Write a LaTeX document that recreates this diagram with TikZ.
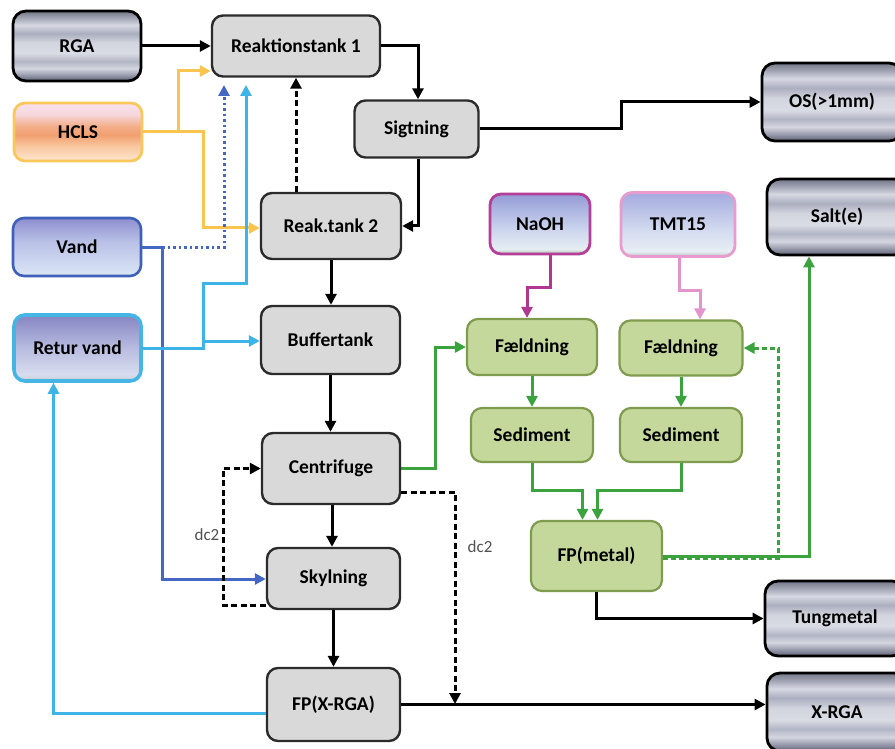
\documentclass[tikz,border=0pt]{standalone}
\usepackage{fontspec}
\setmainfont{Carlito}
\usetikzlibrary{arrows.meta}

% box colours
\definecolor{boxgray}{HTML}{D9D9D9}
\definecolor{boxedge}{HTML}{2B2B2B}
\definecolor{greenfill}{HTML}{C5D89B}
\definecolor{greenedge}{HTML}{7F9B4E}
\definecolor{hclsedge}{HTML}{F8C85A}
\definecolor{vandedge}{HTML}{3F5FB8}
\definecolor{returedge}{HTML}{45B5E6}
\definecolor{naohedge}{HTML}{B53E98}
\definecolor{tmtedge}{HTML}{E79BCF}
% flow colours
\definecolor{flowgreen}{HTML}{3AA33E}
\definecolor{vandflow}{HTML}{4466C4}
\definecolor{returflow}{HTML}{3DB4E8}
\definecolor{hclsflow}{HTML}{F9C54F}
\definecolor{naohflow}{HTML}{B1368F}
\definecolor{tmtflow}{HTML}{E394CC}
\definecolor{lblgray}{HTML}{505050}

% Shadings: a node is fitted to the band 25bp..75bp of the 100bp shading.
% metallic bands
\definecolor{metA}{HTML}{5E6173}
\definecolor{metB}{HTML}{9497A8}
\definecolor{metC}{HTML}{D4D6E0}
\definecolor{metD}{HTML}{B2B5C4}
\definecolor{metE}{HTML}{DADCE5}
\definecolor{metF}{HTML}{D2D4DE}
\definecolor{metG}{HTML}{ABAEBF}
\definecolor{metH}{HTML}{D6D8E2}
\definecolor{metI}{HTML}{A2A5B4}
\definecolor{metJ}{HTML}{747787}
\pgfdeclareverticalshading{metal}{100bp}{color(0bp)=(metA); color(25bp)=(metA); color(29bp)=(metB); color(34bp)=(metC); color(39bp)=(metD); color(45bp)=(metE); color(52.5bp)=(metF); color(59bp)=(metG); color(65bp)=(metH); color(70bp)=(metI); color(75bp)=(metJ); color(100bp)=(metJ)}

% HCLS
\definecolor{hcA}{HTML}{FDE6CC}
\definecolor{hcB}{HTML}{F9C8A0}
\definecolor{hcC}{HTML}{F1A070}
\definecolor{hcD}{HTML}{F3AE88}
\definecolor{hcE}{HTML}{F6D6DC}
\definecolor{hcF}{HTML}{F8E2EE}
\pgfdeclareverticalshading{hclsshade}{100bp}{color(0bp)=(hcA); color(25bp)=(hcA); color(37.5bp)=(hcB); color(47.5bp)=(hcC); color(55bp)=(hcD); color(65bp)=(hcE); color(75bp)=(hcF); color(100bp)=(hcF)}

% Vand
\definecolor{vaA}{HTML}{DBE6F6}
\definecolor{vaB}{HTML}{B8C0E6}
\definecolor{vaC}{HTML}{8E8ECF}
\pgfdeclareverticalshading{vandshade}{100bp}{color(0bp)=(vaA); color(25bp)=(vaA); color(55bp)=(vaB); color(75bp)=(vaC); color(100bp)=(vaC)}

% Retur vand
\definecolor{reA}{HTML}{C8CCD4}
\definecolor{reB}{HTML}{D8DCEF}
\definecolor{reC}{HTML}{B8BCE0}
\definecolor{reD}{HTML}{8585C2}
\pgfdeclareverticalshading{returshade}{100bp}{color(0bp)=(reA); color(25bp)=(reA); color(30bp)=(reB); color(50bp)=(reC); color(75bp)=(reD); color(100bp)=(reD)}

% NaOH / TMT15
\definecolor{naA}{HTML}{AAB8B0}
\definecolor{naB}{HTML}{E6EEF2}
\definecolor{naC}{HTML}{CDD6EE}
\definecolor{naD}{HTML}{949BD6}
\pgfdeclareverticalshading{naohshade}{100bp}{color(0bp)=(naA); color(25bp)=(naA); color(29bp)=(naB); color(45bp)=(naC); color(75bp)=(naD); color(100bp)=(naD)}
\definecolor{tmA}{HTML}{B8C4C0}
\definecolor{tmB}{HTML}{E8EEF4}
\definecolor{tmC}{HTML}{D4DCF0}
\definecolor{tmD}{HTML}{A4AADE}
\pgfdeclareverticalshading{tmtshade}{100bp}{color(0bp)=(tmA); color(25bp)=(tmA); color(29bp)=(tmB); color(45bp)=(tmC); color(75bp)=(tmD); color(100bp)=(tmD)}

\begin{document}
\begin{tikzpicture}[x=1pt,y=-1pt,
  every node/.style={font=\fontsize{19.5}{23}\selectfont\bfseries, inner sep=0pt, align=center},
  sz/.style 2 args={minimum width=#1pt, minimum height=#2pt},
  procbox/.style={draw=boxedge, fill=boxgray, line width=2.4pt, rounded corners=11pt},
  greenbox/.style={draw=greenedge, fill=greenfill, line width=2.2pt, rounded corners=11pt},
  metalbox/.style={draw=black, shading=metal, line width=2.8pt, rounded corners=13pt},
  hclsbox/.style={draw=hclsedge, shading=hclsshade, line width=2.8pt, rounded corners=11pt},
  vandbox/.style={draw=vandedge, shading=vandshade, line width=2.6pt, rounded corners=11pt},
  returbox/.style={draw=returedge, shading=returshade, line width=3.6pt, rounded corners=11pt},
  naohbox/.style={draw=naohedge, shading=naohshade, line width=2.8pt, rounded corners=11pt},
  tmtbox/.style={draw=tmtedge, shading=tmtshade, line width=2.8pt, rounded corners=11pt},
  flow/.style={line width=3pt, -{Triangle[length=11pt,width=11pt]}},
  dashline/.style={dash pattern=on 6pt off 3.5pt},
  dotline/.style={dash pattern=on 2.5pt off 3pt},
  gdashline/.style={dash pattern=on 5pt off 3pt},
  lbl/.style={font=\fontsize{17}{20}\selectfont, text=lblgray}
]
\useasboundingbox (0,0) rectangle (895,749);

% ---- nodes ----
\node[metalbox, sz={128}{70}] (rga) at (77,46) {RGA};
\node[procbox, sz={168}{61}] (rt1) at (296,46) {Reaktionstank 1};
\node[hclsbox, sz={128}{58}] (hcls) at (78,132) {HCLS};
\node[procbox, sz={124}{57}] (sig) at (416.5,129) {Sigtning};
\node[metalbox, sz={140}{78}] (os) at (832,102) {OS(>1mm)};
\node[procbox, sz={140}{66}] (rt2) at (331,226) {Reak.tank 2};
\node[vandbox, sz={128}{58}] (vand) at (77,247) {Vand};
\node[naohbox, sz={100}{60}] (naoh) at (540,224) {NaOH};
\node[tmtbox, sz={114}{64}] (tmt) at (678,224.5) {TMT15};
\node[metalbox, sz={140}{76}] (salt) at (837,217) {Salt(e)};
\node[returbox, sz={127}{66}] (retur) at (77.5,348) {Retur vand};
\node[procbox, sz={139}{68}] (buf) at (330.5,340) {Buffertank};
\node[greenbox, sz={130}{56}] (f1) at (532,347) {Fældning};
\node[greenbox, sz={123}{55}] (f2) at (681,348) {Fældning};
\node[greenbox, sz={122}{54}] (s1) at (532,435) {Sediment};
\node[greenbox, sz={122}{54}] (s2) at (681,435) {Sediment};
\node[procbox, sz={138}{71}] (cen) at (331,468.5) {Centrifuge};
\node[greenbox, sz={131}{70}] (fpm) at (596.5,556) {FP(metal)};
\node[procbox, sz={133}{61}] (sky) at (333.5,578.5) {Skylning};
\node[metalbox, sz={140}{75}] (tung) at (835,618.5) {Tungmetal};
\node[procbox, sz={133}{73}] (fpx) at (333.5,704.5) {FP(X-RGA)};
\node[metalbox, sz={140}{78}] (xrga) at (837,712) {X-RGA};

% ---- main line ----
\draw[flow] (rga.east) -- (rga.east -| rt1.west);
\draw[flow] (rt1.east) -| ([xshift=1.5pt]sig.north);
\draw[flow] ([xshift=1.5pt]sig.south) |- (rt2.east);
\draw[flow] (sig.east) -- ++(142,0) |- (os.west);
\draw[flow, dashline] (rt1.south |- rt2.north) -- (rt1.south);
\draw[flow] (rt2.south) -- (rt2.south |- buf.north);
\draw[flow] (buf.south) -- (buf.south |- cen.north);
\draw[flow] ([xshift=1pt]cen.south) -- ([xshift=1pt]cen.south |- sky.north);
\draw[flow] (sky.south) -- (sky.south |- fpx.north);
\draw[flow] (fpx.east) -- (fpx.east -| xrga.west);

% ---- acid feed ----
\draw[flow, hclsflow] (hcls.east) -- (178,132) |- (rt1.west |- 0,71);
\draw[flow, hclsflow] (178,132) -- (203,132) |- (rt2.west |- 0,228);

% ---- water ----
\coordinate (vtip) at (224,85);
\coordinate (rtip) at (246,85);
\draw[flow, vandflow] (vand.east) -- (162,247) |- (sky.west |- 0,579);
\draw[flow, vandflow, dotline] (162,247) -- (224,247) -- (vtip);
\draw[flow, returflow] (retur.east) -- (203,348) |- (246,283) -- (rtip);
\draw[flow, returflow] (203,341) -- (buf.west |- 0,341);
\draw[flow, returflow] (fpx.west |- 0,713) -| ([xshift=-24pt]retur.south);

% ---- dc2 loops ----
\coordinate (dctip) at (455,704);
\draw[flow, dashline] (sky.west |- 0,605) -- (223,605) |- (cen.west);
\node[lbl] (dca) at (207,535) {dc2};
\draw[flow, dashline] (cen.east |- 0,492) -| (dctip);
\node[lbl] (dcb) at (480,547) {dc2};

% ---- precipitation ----
\draw[flow, flowgreen] (cen.east) -- (435,468.5) |- (f1.west);
\draw[flow, naohflow] ([xshift=10pt]naoh.south) -- ++(0,32) -| ([xshift=-5pt]f1.north);
\draw[flow, tmtflow] ([xshift=1pt]tmt.south) -- ++(0,33) -| ([xshift=19pt]f2.north);
\draw[flow, flowgreen] (f1.south) -- (f1.south |- s1.north);
\draw[flow, flowgreen] (f2.south) -- (f2.south |- s2.north);
\draw[flow, flowgreen] (s1.south) -- ++(0,27) -| ([xshift=-14pt]fpm.north);
\draw[flow, flowgreen] (s2.south) -- ++(0,27) -| ([xshift=1pt]fpm.north);
\draw[flow, flowgreen] (fpm.east) -| ([xshift=-28pt]salt.south);
\draw[flow, flowgreen, gdashline] ([yshift=-2pt]fpm.east) -- (778,558) |- (f2.east);
\draw[flow] (fpm.south) |- (tung.west);
\end{tikzpicture}
\end{document}
